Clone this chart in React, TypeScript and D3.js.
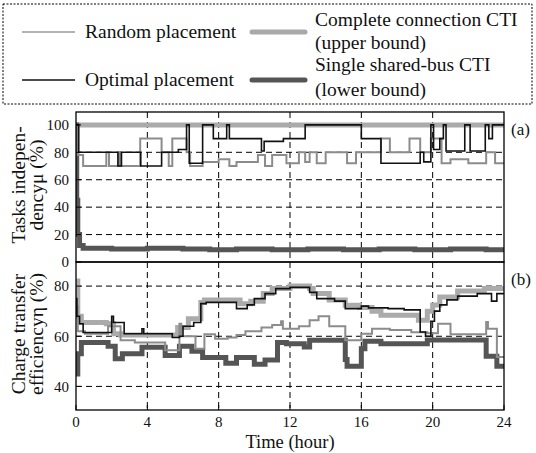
import React, { useEffect, useRef } from "react";
import * as d3 from "d3";

// step series: [hour, value] — value holds until the next hour
const muUpper: [number, number][] = [[0, 100], [24, 100]];
const muLower: [number, number][] = [
  [0, 100], [0.04, 45], [0.1, 20], [0.2, 12], [0.4, 10], [2, 9.5], [4, 10], [6, 9.5],
  [7.5, 9], [9, 9.5], [11, 9], [13, 9.5], [15, 9], [17, 9.5], [19, 9], [21, 9.5], [23, 9], [24, 9],
];
const muRandom: [number, number][] = [
  [0, 100], [0.1, 78], [0.4, 70], [1.7, 80], [1.85, 70], [2.4, 80], [2.5, 70], [3.6, 90],
  [4.8, 80], [5.2, 70], [5.4, 90], [6.2, 80], [6.4, 70], [7.1, 73], [8.0, 75], [8.6, 70],
  [9.0, 73], [10.2, 78], [10.6, 70], [11.0, 78], [11.8, 72], [12.5, 80], [12.85, 73],
  [13.1, 80], [13.5, 72], [14.0, 80], [15.2, 72], [15.7, 80], [17.1, 90], [17.6, 80],
  [18.7, 90], [19.3, 80], [19.9, 90], [20.5, 72], [21.0, 75], [22.0, 72], [23.0, 80],
  [23.5, 72], [24, 72],
];
const muOptimal: [number, number][] = [
  [0, 100], [0.15, 80], [2.35, 70], [2.55, 80], [3.63, 70], [4.8, 80], [5.74, 82],
  [6.2, 100], [6.35, 72], [7.1, 100], [7.7, 90], [8.45, 100], [8.6, 90], [10.4, 81],
  [10.55, 88], [11.63, 90], [12.85, 100], [16.0, 90], [17.1, 72], [19.3, 80], [19.5, 73],
  [19.9, 100], [20.05, 82], [20.4, 90], [20.6, 100], [20.75, 81], [21.8, 100], [22.1, 81],
  [22.95, 100], [23.15, 90], [23.35, 100], [24, 100],
];

const etaUpper: [number, number][] = [
  [0, 82], [0.1, 68], [0.3, 65.5], [1.7, 65], [2.1, 61], [2.5, 60.5], [5.7, 63.5],
  [6.3, 67], [7.0, 73.5], [7.2, 74.5], [9.2, 73], [9.8, 74], [10.5, 77], [11.0, 79],
  [12.0, 80], [13.1, 79], [13.3, 77], [14.2, 74.5], [15.1, 72.4], [15.9, 71.5],
  [16.6, 70], [17.1, 68.4], [19.2, 66.4], [19.7, 70], [20.0, 72.5], [20.4, 75.6],
  [21.4, 78], [22.9, 79], [24, 79],
];
const etaLower: [number, number][] = [
  [0, 45], [0.1, 53], [0.3, 57.5], [1.8, 56], [2.2, 51], [2.6, 53], [3.7, 55.6],
  [5.0, 52.3], [5.8, 56], [6.5, 54], [7.1, 51.5], [8.4, 49.2], [9.0, 51.5],
  [10.0, 48.8], [10.6, 50.5], [11.3, 57.5], [11.8, 57], [12.8, 55.7], [13.1, 58.4],
  [15.1, 50.7], [15.2, 48], [16.0, 55], [16.2, 58], [17.1, 57], [19.7, 58.5],
  [23.0, 52], [23.6, 48], [24, 48],
];
const etaRandom: [number, number][] = [
  [0, 72], [0.1, 62], [0.5, 61], [1.8, 64], [2.5, 58.4], [3.3, 57.5], [5.0, 54.4],
  [5.8, 65], [5.9, 60], [6.7, 55], [7.2, 60.8], [7.8, 59], [8.5, 59.5], [9.0, 60.5],
  [9.5, 62], [10.4, 63.5], [11.0, 64.5], [11.5, 66], [11.6, 63], [12.5, 64],
  [13.1, 66.4], [13.6, 68], [14.2, 64], [15.1, 58.4], [16.0, 61], [16.6, 63],
  [17.6, 62.5], [18.8, 61.6], [19.7, 61.2], [20.3, 65], [21.0, 60.8], [22.0, 60.8],
  [23.0, 65.7], [23.1, 63], [23.6, 51.7], [24, 51.7],
];
const etaOptimal: [number, number][] = [
  [0, 75], [0.05, 68], [0.2, 65], [0.4, 61.5], [2.0, 68], [2.1, 65.5], [2.7, 61],
  [3.7, 63], [3.8, 61], [5.4, 59.5], [5.8, 60], [6.0, 64], [6.6, 65.5], [7.0, 73],
  [7.3, 73.5], [9.0, 71], [9.6, 72.5], [10.0, 75], [10.6, 77], [11.2, 79], [12.0, 79.5],
  [13.1, 77.5], [13.5, 75], [14.5, 74], [15.1, 71], [16.0, 72], [16.4, 71.3],
  [17.5, 71], [18.4, 70.5], [19.3, 61.7], [19.6, 60], [19.9, 66], [20.1, 70],
  [20.4, 72.5], [20.8, 74.5], [21.4, 76], [22.5, 77], [23.3, 74], [23.6, 77], [24, 77],
];

const hourTicks = [0, 4, 8, 12, 16, 20, 24];
const muTicks = [0, 20, 40, 60, 80, 100];
const etaTicks = [40, 60, 80];

const legendItems = [
  { label: ["Random placement"], color: "#9a9a9a", width: 1.5 },
  { label: ["Optimal placement"], color: "#111111", width: 1.5 },
  { label: ["Complete connection CTI", "(upper bound)"], color: "#a9a9a9", width: 5 },
  { label: ["Single shared-bus CTI", "(lower bound)"], color: "#555555", width: 5 },
];

const W = 536;
const H = 453;
const FONT = "Liberation Serif, Times New Roman, DejaVu Serif, serif";

export default function App() {
  const ref = useRef<SVGSVGElement>(null);

  useEffect(() => {
    const svg = d3.select(ref.current);
    svg.selectAll("*").remove();
    svg.attr("width", W).attr("height", H);

    const txt = (sel: d3.Selection<any, any, any, any>) =>
      sel.append("text").attr("font-family", FONT).attr("fill", "#111");

    const left = 76,
      right = 504;
    const x = d3.scaleLinear().domain([0, 24]).range([left, right]);

    const panels = [
      {
        top: 112, bottom: 262, y: d3.scaleLinear().domain([0, 109.4]).range([262, 112]),
        ticks: muTicks, grid: [20, 40, 60, 80], tag: "(a)",
        series: [muUpper, muLower, muRandom, muOptimal],
        ylabel: ["Tasks indepen-", "dencyμ (%)"],
      },
      {
        top: 262, bottom: 410, y: d3.scaleLinear().domain([30.6, 89.6]).range([410, 262]),
        ticks: etaTicks, grid: [40, 60, 80], tag: "(b)",
        series: [etaUpper, etaLower, etaRandom, etaOptimal],
        ylabel: ["Charge transfer", "efficiencyη (%)"],
      },
    ];

    const styles = [
      { color: "#ababab", width: 5 },
      { color: "#555555", width: 5 },
      { color: "#8c8c8c", width: 2 },
      { color: "#111111", width: 1.6 },
    ];

    panels.forEach((p) => {
      const g = svg.append("g");
      const clipId = "clip" + p.tag.replace(/\W/g, "");
      svg.append("clipPath").attr("id", clipId)
        .append("rect").attr("x", left).attr("y", p.top).attr("width", right - left).attr("height", p.bottom - p.top);

      // grid
      g.selectAll(".vg").data(hourTicks.slice(1, -1)).join("line")
        .attr("x1", (d) => x(d)).attr("x2", (d) => x(d))
        .attr("y1", p.top).attr("y2", p.bottom)
        .attr("stroke", "#000").attr("stroke-width", 1).attr("stroke-dasharray", "6,4");
      g.selectAll(".hg").data(p.grid).join("line")
        .attr("x1", left).attr("x2", right)
        .attr("y1", (d) => p.y(d)).attr("y2", (d) => p.y(d))
        .attr("stroke", "#000").attr("stroke-width", 1).attr("stroke-dasharray", "6,4");

      // series
      const line = d3.line<[number, number]>()
        .x((d) => x(d[0])).y((d) => p.y(d[1])).curve(d3.curveStepAfter);
      const sg = g.append("g").attr("clip-path", `url(#${clipId})`);
      p.series.forEach((s, i) => {
        sg.append("path").attr("d", line(s)).attr("fill", "none")
          .attr("stroke", styles[i].color).attr("stroke-width", styles[i].width)
          .attr("stroke-linejoin", "miter");
      });

      // y axis labels
      p.ticks.forEach((d) => {
        txt(g).attr("x", 69).attr("y", p.y(d)).attr("dy", "0.35em")
          .attr("text-anchor", "end").attr("font-size", 15).text(d);
        g.append("line").attr("x1", left).attr("x2", left + 5)
          .attr("y1", p.y(d)).attr("y2", p.y(d)).attr("stroke", "#000");
      });

      const cy = (p.top + p.bottom) / 2;
      p.ylabel.forEach((t, i) => {
        txt(g)
          .attr("transform", `translate(${25 + i * 18},${cy - 2}) rotate(-90)`)
          .attr("text-anchor", "middle").attr("font-size", 19.5).text(t);
      });

      txt(g).attr("x", 511).attr("y", p.top + 23).attr("font-size", 17).text(p.tag);

      g.append("rect").attr("x", left).attr("y", p.top)
        .attr("width", right - left).attr("height", p.bottom - p.top)
        .attr("fill", "none").attr("stroke", "#000").attr("stroke-width", 1.3);
    });

    // x axis
    hourTicks.forEach((d) => {
      svg.append("line").attr("x1", x(d)).attr("x2", x(d))
        .attr("y1", 410).attr("y2", 405).attr("stroke", "#000");
      txt(svg).attr("x", x(d)).attr("y", 426.5).attr("text-anchor", "middle")
        .attr("font-size", 15).text(d);
    });
    txt(svg).attr("x", x(12)).attr("y", 448).attr("text-anchor", "middle")
      .attr("font-size", 18.5).text("Time (hour)");

    // legend
    const lg = svg.append("g");
    lg.append("rect").attr("x", 3).attr("y", 4).attr("width", 529).attr("height", 100)
      .attr("fill", "none").attr("stroke", "#000").attr("stroke-dasharray", "2,1.5");
    const pos = [
      { lx: 22, ly: 32, tx: 85, ty: [38] },
      { lx: 22, ly: 80, tx: 85, ty: [86] },
      { lx: 252, ly: 32, tx: 315, ty: [26, 49] },
      { lx: 252, ly: 80, tx: 315, ty: [71, 96] },
    ];
    legendItems.forEach((it, i) => {
      const ps = pos[i];
      lg.append("line").attr("x1", ps.lx).attr("x2", ps.lx + 53)
        .attr("y1", ps.ly).attr("y2", ps.ly)
        .attr("stroke", it.color).attr("stroke-width", it.width).attr("stroke-linecap", it.width > 3 ? "round" : "butt");
      it.label.forEach((t, j) => {
        txt(lg).attr("x", ps.tx).attr("y", ps.ty[j]).attr("font-size", 19.5).text(t);
      });
    });
  }, []);

  return (
    <div style={{ position: "absolute", left: 0, top: 0 }}>
      <svg ref={ref}></svg>
    </div>
  );
}
